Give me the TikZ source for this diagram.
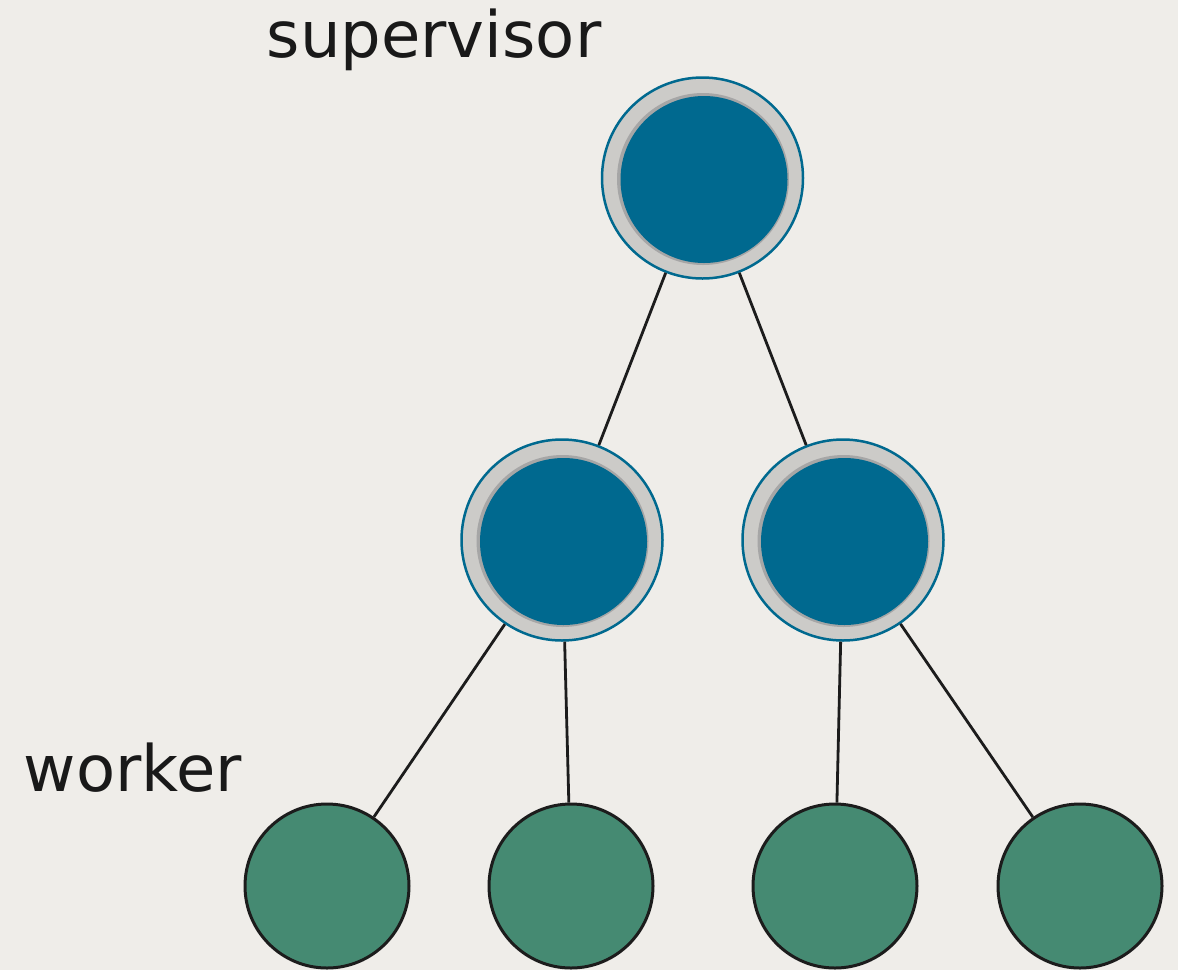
\documentclass[tikz,border=0pt]{standalone}
\usepackage{fontspec}
\setmainfont{DejaVu Sans}
\definecolor{paper}{HTML}{EFEDE9}
\definecolor{supblue}{HTML}{00698F}
\definecolor{ringgray}{HTML}{CCCBC8}
\definecolor{workgreen}{HTML}{458A72}
\definecolor{edgecol}{HTML}{1C1C1C}
\tikzset{
  supnode/.style={circle, minimum size=201pt, inner sep=0pt, draw=supblue, line width=2.5pt,
    fill=ringgray},
  supshadow/.style={circle, minimum size=172pt, inner sep=0pt, fill=black!35},
  supcore/.style={circle, minimum size=167pt, inner sep=0pt, fill=supblue},
  worknode/.style={circle, minimum size=164pt, inner sep=0pt, draw=edgecol, line width=3pt, fill=workgreen},
  edge/.style={draw=edgecol, line width=2.8pt},
  lbl/.style={font=\fontsize{64}{72}\selectfont, text=black!90, inner sep=0pt}
}
\begin{document}
\begin{tikzpicture}[x=1pt,y=-1pt]
\fill[paper] (0,0) rectangle (1178,970);
\useasboundingbox (0,0) rectangle (1178,970);
% supervisors
\node[supnode] (s) at (702.5,178) {};
\node[supshadow] (ssh) at (703,179) {};
\node[supcore] (sc) at (704,179.5) {};
\node[supnode] (l) at (562,540) {};
\node[supshadow] (lsh) at (562.5,541) {};
\node[supcore] (lc) at (563.5,541.5) {};
\node[supnode] (r) at (843,540) {};
\node[supshadow] (rsh) at (843.5,541) {};
\node[supcore] (rc) at (844.5,541.5) {};
% workers
\node[worknode] (w1) at (327,886) {};
\node[worknode] (w2) at (571,886) {};
\node[worknode] (w3) at (835,886) {};
\node[worknode] (w4) at (1080,886) {};
% edges
\draw[edge] (s) -- (l);
\draw[edge] (s) -- (r);
\draw[edge] (l) -- (w1);
\draw[edge] (l) -- (w2);
\draw[edge] (r) -- (w3);
\draw[edge] (r) -- (w4);
% labels
\node[lbl] (tsup) at (434,40) {supervisor};
\node[lbl] (twork) at (133,768) {worker};
\end{tikzpicture}
\end{document}
